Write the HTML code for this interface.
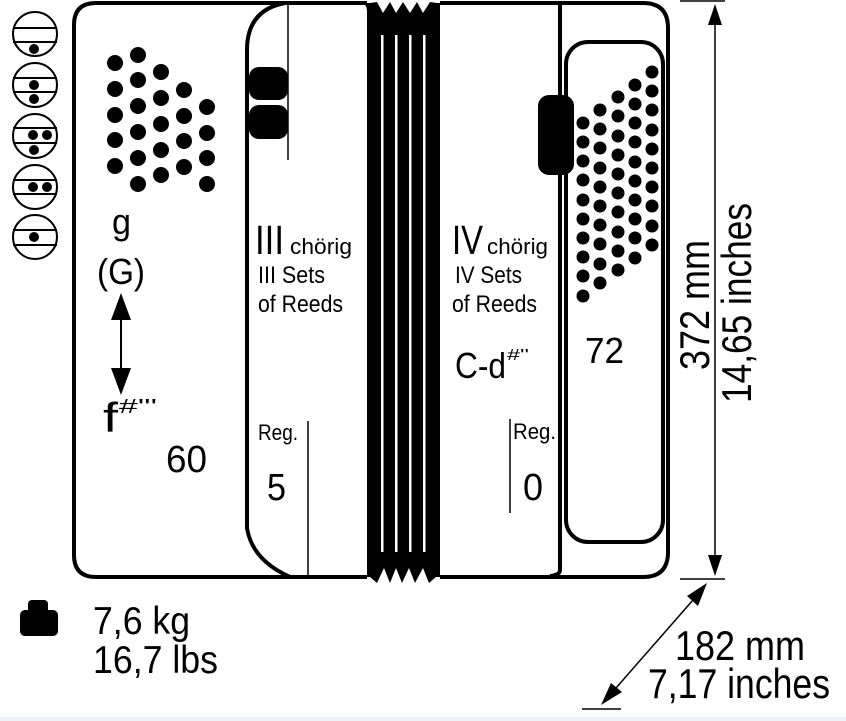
<!DOCTYPE html>
<html><head><meta charset="utf-8"><style>
html,body{margin:0;padding:0;background:#fff}
svg{display:block}
text{font-family:"Liberation Sans",sans-serif;fill:#000}
</style></head><body>
<svg width="846" height="721" viewBox="0 0 846 721" xmlns="http://www.w3.org/2000/svg">
<rect x="0" y="717" width="846" height="4" fill="#eef2f8"/>
<!-- left circles -->
<g stroke="#000" stroke-width="2" fill="none">
<circle cx="35" cy="34" r="22"/><line x1="13" y1="28" x2="57" y2="28"/><line x1="13" y1="42" x2="57" y2="42"/>
<circle cx="35" cy="85" r="22"/><line x1="13" y1="78" x2="57" y2="78"/><line x1="13" y1="92" x2="57" y2="92"/>
<circle cx="35" cy="136" r="22"/><line x1="13" y1="128" x2="57" y2="128"/><line x1="13" y1="143" x2="57" y2="143"/>
<circle cx="35" cy="187" r="22"/><line x1="13" y1="180" x2="57" y2="180"/><line x1="13" y1="194" x2="57" y2="194"/>
<circle cx="35" cy="237" r="22"/><line x1="13" y1="230" x2="57" y2="230"/><line x1="13" y1="245" x2="57" y2="245"/>
</g>
<g fill="#000">
<circle cx="34" cy="49" r="5"/>
<circle cx="34" cy="85" r="5"/><circle cx="34" cy="99" r="5"/>
<circle cx="33" cy="135" r="5"/><circle cx="47" cy="135" r="5"/><circle cx="34" cy="150" r="5"/>
<circle cx="33" cy="187" r="5"/><circle cx="47" cy="187" r="5"/>
<circle cx="34" cy="237" r="5"/>
</g>
<!-- outer body -->
<g stroke="#000" stroke-width="4" fill="none" stroke-linejoin="round">
<path d="M367,3 H96 Q74,3 74,25 V555 Q74,577 96,577 H290"/>
<path d="M285,3 Q247,10 247,50 V528 Q252,560 290,577 H367"/>
<path d="M440,3 H643 Q668,3 668,28 V552 Q668,577 643,577 H440"/>
<path d="M560,3 V570 Q560,575 550,576"/>
<rect x="566" y="42" width="97" height="500" rx="22"/>
</g>
<line x1="288" y1="3" x2="288" y2="160" stroke="#000" stroke-width="1.5"/>
<line x1="308" y1="421" x2="308" y2="577" stroke="#000" stroke-width="1.5"/>
<line x1="510" y1="419" x2="510" y2="513" stroke="#000" stroke-width="1.5"/>
<!-- lozenges -->
<rect x="249" y="67" width="39" height="33" rx="10"/>
<rect x="249" y="105" width="39" height="34" rx="10"/>
<rect x="538" y="95" width="36" height="80" rx="11"/>
<!-- bellows -->
<path d="M367,12 Q367,3 360,3 H367 L370,3 377,2 383,13 390,2 396,13 403,2 410,13 417,2 423,13 430,2 437,3 440,3 V577 L436,577 429,583 423,568 415,583 409,568 402,583 396,568 390,583 384,568 377,583 370,577 367,577 Z"/>
<g fill="#fff"><rect x="381" y="35" width="2.5" height="517"/><rect x="395" y="35" width="2.5" height="517"/><rect x="409" y="35" width="2.5" height="517"/><rect x="423" y="35" width="2.5" height="517"/></g>
<!-- left dots -->
<g fill="#000">
<circle cx="115" cy="63" r="8"/><circle cx="115" cy="89" r="8"/><circle cx="115" cy="115" r="8"/><circle cx="115" cy="140" r="8"/><circle cx="115" cy="166" r="8"/>
<circle cx="138" cy="55" r="8"/><circle cx="138" cy="80" r="8"/><circle cx="138" cy="106" r="8"/><circle cx="138" cy="132" r="8"/><circle cx="138" cy="158" r="8"/><circle cx="138" cy="184" r="8"/>
<circle cx="161" cy="72" r="8"/><circle cx="161" cy="98" r="8"/><circle cx="161" cy="124" r="8"/><circle cx="161" cy="150" r="8"/><circle cx="161" cy="175" r="8"/>
<circle cx="184" cy="90" r="8"/><circle cx="184" cy="116" r="8"/><circle cx="184" cy="141" r="8"/><circle cx="184" cy="167" r="8"/>
<circle cx="207" cy="107" r="8"/><circle cx="207" cy="133" r="8"/><circle cx="207" cy="158" r="8"/><circle cx="207" cy="184" r="8"/>
</g>
<!-- right dots -->
<g fill="#000">
<circle cx="652" cy="72" r="6.5"/><circle cx="652" cy="91" r="6.5"/><circle cx="652" cy="110" r="6.5"/><circle cx="652" cy="130" r="6.5"/><circle cx="652" cy="149" r="6.5"/><circle cx="652" cy="168" r="6.5"/><circle cx="652" cy="187" r="6.5"/><circle cx="652" cy="206" r="6.5"/><circle cx="652" cy="226" r="6.5"/><circle cx="652" cy="245" r="6.5"/>
<circle cx="635" cy="85" r="6.5"/><circle cx="635" cy="104" r="6.5"/><circle cx="635" cy="123" r="6.5"/><circle cx="635" cy="142" r="6.5"/><circle cx="635" cy="162" r="6.5"/><circle cx="635" cy="181" r="6.5"/><circle cx="635" cy="200" r="6.5"/><circle cx="635" cy="219" r="6.5"/><circle cx="635" cy="238" r="6.5"/><circle cx="635" cy="258" r="6.5"/>
<circle cx="618" cy="97" r="6.5"/><circle cx="618" cy="116" r="6.5"/><circle cx="618" cy="136" r="6.5"/><circle cx="618" cy="155" r="6.5"/><circle cx="618" cy="174" r="6.5"/><circle cx="618" cy="193" r="6.5"/><circle cx="618" cy="212" r="6.5"/><circle cx="618" cy="232" r="6.5"/><circle cx="618" cy="251" r="6.5"/><circle cx="618" cy="270" r="6.5"/>
<circle cx="600" cy="110" r="6.5"/><circle cx="600" cy="129" r="6.5"/><circle cx="600" cy="148" r="6.5"/><circle cx="600" cy="168" r="6.5"/><circle cx="600" cy="187" r="6.5"/><circle cx="600" cy="206" r="6.5"/><circle cx="600" cy="225" r="6.5"/><circle cx="600" cy="244" r="6.5"/><circle cx="600" cy="264" r="6.5"/><circle cx="600" cy="283" r="6.5"/>
<circle cx="583" cy="123" r="6.5"/><circle cx="583" cy="142" r="6.5"/><circle cx="583" cy="161" r="6.5"/><circle cx="583" cy="180" r="6.5"/><circle cx="583" cy="200" r="6.5"/><circle cx="583" cy="219" r="6.5"/><circle cx="583" cy="238" r="6.5"/><circle cx="583" cy="257" r="6.5"/><circle cx="583" cy="276" r="6.5"/><circle cx="583" cy="296" r="6.5"/>
</g>
<!-- left text -->
<text x="112" y="234" font-size="36" textLength="19" lengthAdjust="spacingAndGlyphs">g</text>
<text x="97" y="284" font-size="36" textLength="48" lengthAdjust="spacingAndGlyphs">(G)</text>
<line x1="121" y1="318" x2="121" y2="370" stroke="#000" stroke-width="2"/>
<path d="M111,320 L121,293 131,320Z M111,368 L121,395 131,368Z"/>
<text x="103" y="432" font-size="42" textLength="15" lengthAdjust="spacingAndGlyphs">f</text>
<text x="119" y="413" font-size="20" textLength="38" lengthAdjust="spacingAndGlyphs">#'''</text>
<text x="166" y="472" font-size="38" textLength="41" lengthAdjust="spacingAndGlyphs">60</text>
<!-- center left text -->
<text x="255" y="254" font-size="41" textLength="29" lengthAdjust="spacingAndGlyphs">III</text>
<text x="290" y="254" font-size="22" textLength="62" lengthAdjust="spacingAndGlyphs">chörig</text>
<text x="258" y="283" font-size="24" textLength="67" lengthAdjust="spacingAndGlyphs">III Sets</text>
<text x="258" y="312" font-size="24" textLength="85" lengthAdjust="spacingAndGlyphs">of Reeds</text>
<text x="258" y="440" font-size="22" textLength="40" lengthAdjust="spacingAndGlyphs">Reg.</text>
<text x="267" y="500" font-size="38" textLength="19" lengthAdjust="spacingAndGlyphs">5</text>
<!-- center right text -->
<text x="452" y="254" font-size="41" textLength="31" lengthAdjust="spacingAndGlyphs">IV</text>
<text x="487" y="254" font-size="22" textLength="61" lengthAdjust="spacingAndGlyphs">chörig</text>
<text x="455" y="283" font-size="24" textLength="67" lengthAdjust="spacingAndGlyphs">IV Sets</text>
<text x="452" y="312" font-size="24" textLength="85" lengthAdjust="spacingAndGlyphs">of Reeds</text>
<text x="455" y="378" font-size="36" textLength="51" lengthAdjust="spacingAndGlyphs">C-d</text>
<text x="507" y="360" font-size="16" textLength="22" lengthAdjust="spacingAndGlyphs">#''</text>
<text x="513" y="439" font-size="22" textLength="43" lengthAdjust="spacingAndGlyphs">Reg.</text>
<text x="523" y="500" font-size="38" textLength="20" lengthAdjust="spacingAndGlyphs">0</text>
<text x="585" y="363" font-size="36" textLength="39" lengthAdjust="spacingAndGlyphs">72</text>
<!-- dimensions -->
<line x1="680" y1="1" x2="725" y2="1" stroke="#000" stroke-width="1.5"/>
<line x1="680" y1="579" x2="725" y2="579" stroke="#000" stroke-width="1.5"/>
<line x1="715" y1="24" x2="715" y2="556" stroke="#000" stroke-width="1.5"/>
<path d="M708,25 L715,4 722,25Z M708,555 L715,576 722,555Z"/>
<text transform="translate(709,370) rotate(-90)" font-size="42" textLength="130" lengthAdjust="spacingAndGlyphs">372 mm</text>
<text transform="translate(751,403) rotate(-90)" font-size="42" textLength="200" lengthAdjust="spacingAndGlyphs">14,65 inches</text>
<line x1="582" y1="709" x2="621" y2="709" stroke="#000" stroke-width="1.5"/>
<line x1="693" y1="600" x2="616" y2="688" stroke="#000" stroke-width="1.5"/>
<path d="M707,583 L698,606 687,596Z M601,705 L611,683 622,692Z"/>
<text x="675" y="660" font-size="42" textLength="130" lengthAdjust="spacingAndGlyphs">182 mm</text>
<text x="648" y="698" font-size="42" textLength="182" lengthAdjust="spacingAndGlyphs">7,17 inches</text>
<!-- weight -->
<rect x="28" y="600" width="20" height="14" rx="4"/>
<rect x="20" y="610" width="38" height="26" rx="5"/>
<text x="93" y="634" font-size="39" textLength="97" lengthAdjust="spacingAndGlyphs">7,6 kg</text>
<text x="93" y="673" font-size="39" textLength="125" lengthAdjust="spacingAndGlyphs">16,7 lbs</text>
</svg>
</body></html>
